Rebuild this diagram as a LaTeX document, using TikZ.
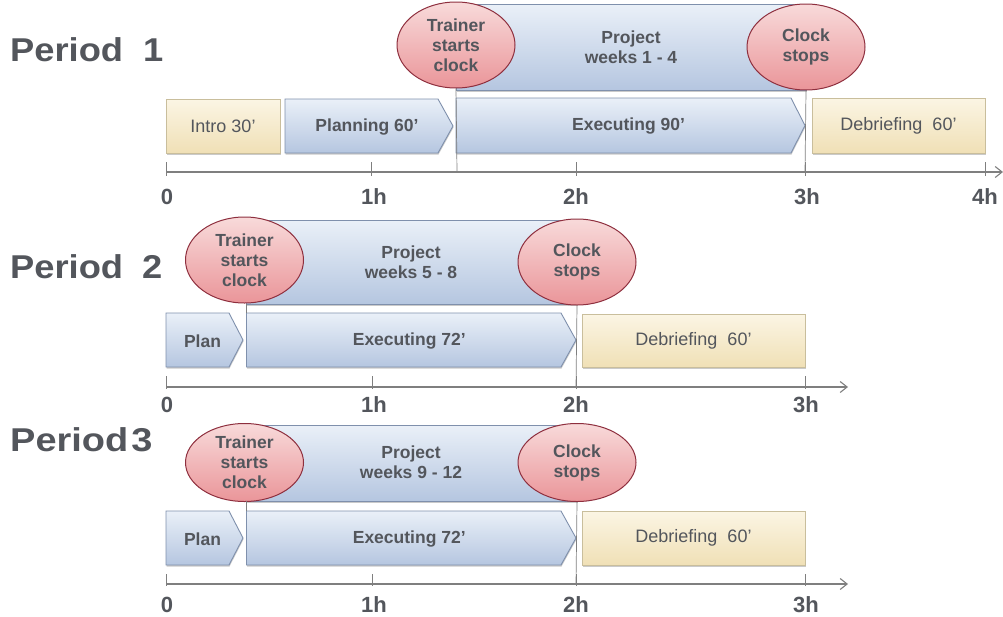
\documentclass[tikz,border=0pt]{standalone}
\usepackage{fontspec}
\setmainfont{Liberation Sans}
\usetikzlibrary{shapes.geometric,arrows.meta,shadows}
\definecolor{txt}{HTML}{53565C}
\definecolor{bluetop}{HTML}{EAF0F8}
\definecolor{bluebot}{HTML}{B5C6E0}
\definecolor{blueln}{HTML}{7F90AC}
\definecolor{yeltop}{HTML}{FBF5E4}
\definecolor{yelbot}{HTML}{F0E0B6}
\definecolor{yelln}{HTML}{C9BE9C}
\definecolor{redtop}{HTML}{F8DADA}
\definecolor{redbot}{HTML}{EA9599}
\definecolor{redln}{HTML}{8E2F3E}
\definecolor{axisc}{HTML}{7F7F7F}
\tikzset{
 x=1pt,y=-1pt,
 softshadow/.style={drop shadow={shadow xshift=0.5pt,shadow yshift=-1.5pt,opacity=0.35,fill=black!60}},
 lbl/.style={font=\bfseries\fontsize{17.5}{20}\selectfont,text=txt,align=center,inner sep=0pt},
 plainlbl/.style={font=\fontsize{18}{20}\selectfont,text=txt,align=center,inner sep=0pt},
 bluefill/.style={draw=blueln,line width=0.9pt,top color=bluetop,bottom color=bluebot,softshadow},
 yelbox/.style={rectangle,draw=yelln,line width=0.9pt,top color=yeltop,bottom color=yelbot,softshadow,outer sep=0pt},
 clockell/.style={ellipse,draw=redln,line width=1pt,top color=redtop,bottom color=redbot,inner sep=0pt,minimum width=118pt,minimum height=86pt,lbl},
 axisln/.style={draw=axisc,line width=1.1pt},
 axisarrow/.style={axisln,-{Straight Barb[length=7pt,width=11pt]}},
 axtick/.style={draw=axisc,line width=0.7pt},
 timelbl/.style={font=\bfseries\fontsize{22}{24}\selectfont,text=txt,inner sep=0pt},
 period/.style={font=\bfseries\fontsize{33}{38}\selectfont,text=txt,inner sep=0pt,anchor=west},
}
\newcommand{\YelBox}[6]{% name x0 y0 x1 y1 text
 \path[yelbox] (#2,#3) rectangle (#4,#5);
 \node[plainlbl] (#1) at ({(#2+#4)/2},{(#3+#5)/2}) {#6};}
\newcommand{\Pent}[7]{% name x0 y0 x1 y1 shoulder text
 \path[bluefill] (#2,#3) -- (#6,#3) -- (#4,{(#3+#5)/2}) -- (#6,#5) -- (#2,#5) -- cycle;
 \node[lbl] (#1) at ({(#2+#4)/2-2},{(#3+#5)/2+1}) {#7};}
\begin{document}
\begin{tikzpicture}
\useasboundingbox (0,0) rectangle (1003,616);
% Period 1
\node[period] (p1) at (10,50) {\addfontfeature{FakeStretch=1.1}Period\kern20pt 1};
\path[bluefill] (456,4) rectangle (806,90);
\node[lbl] (proj1) at (631,47) {Project\\weeks 1 - 4};
\node[clockell] (t1) at (456,45) {Trainer\\starts\\clock};
\node[clockell] (c1) at (806,47) {Clock\\stops};
\YelBox{i1}{166}{99}{280}{153}{Intro 30’}
\Pent{pl1}{285}{99}{453}{153}{438}{Planning 60’}
\Pent{e1}{456}{98}{805}{153}{791}{Executing 90’}
\YelBox{d1}{812}{98}{985}{153}{Debriefing\ \ 60’}
\coordinate (a1s) at (166,172); \coordinate (a1e) at (1003,172);
\draw[axisarrow] (a1s) -- (a1e);
\foreach \x in {166,371,576,805,985} \draw[axtick] (\x,162) -- (\x,176);
\draw[axtick] (t1.south) -- (457,172);
\draw[axtick] (c1.south) -- (805,172);
\node[timelbl] (l10) at (167,197) {0};
\node[timelbl] (l11) at (374,197) {1h};
\node[timelbl] (l12) at (576,197) {2h};
\node[timelbl] (l13) at (807,197) {3h};
\node[timelbl] (l14) at (985,197) {4h};
% Period 2
\node[period] (p2) at (10,267) {\addfontfeature{FakeStretch=1.1}Period\kern19pt 2};
\path[bluefill] (246,220) rectangle (577,304);
\node[lbl] (proj2) at (411,262) {Project\\weeks 5 - 8};
\node[clockell] (t2) at (244.5,260) {Trainer\\starts\\clock};
\node[clockell] (c2) at (577,262) {Clock\\stops};
\Pent{pl2}{166}{313}{243}{367}{229}{Plan}
\Pent{e2}{246.5}{313}{576}{367}{561}{Executing 72’}
\YelBox{d2}{582}{314}{805}{367}{Debriefing\ \ 60’}
\coordinate (a2s) at (166,387); \coordinate (a2e) at (848,387);
\draw[axisarrow] (a2s) -- (a2e);
\foreach \x in {166,372,576,805} \draw[axtick] (\x,376) -- (\x,389);
\draw[axtick] (246.5,304) -- (246.5,313);
\draw[axtick] (c2.south) -- (576,387);
\node[timelbl] (l20) at (167,405) {0};
\node[timelbl] (l21) at (374,405) {1h};
\node[timelbl] (l22) at (576,405) {2h};
\node[timelbl] (l23) at (806,405) {3h};
% Period 3
\node[period] (p3) at (10,440) {\addfontfeature{FakeStretch=1.15}Period\kern3pt 3};
\path[bluefill] (246,425) rectangle (577,501);
\node[lbl] (proj3) at (411,462) {Project\\weeks 9 - 12};
\node[clockell,minimum height=78pt] (t3) at (244.5,462.5) {Trainer\\starts\\clock};
\node[clockell,minimum height=78pt] (c3) at (577,462.5) {Clock\\stops};
\Pent{pl3}{166}{511}{243}{565}{229}{Plan}
\Pent{e3}{246.5}{511}{576}{565}{561}{Executing 72’}
\YelBox{d3}{582}{511}{805}{565}{Debriefing\ \ 60’}
\coordinate (a3s) at (166,584); \coordinate (a3e) at (848,584);
\draw[axisarrow] (a3s) -- (a3e);
\foreach \x in {166,372,576,805} \draw[axtick] (\x,574) -- (\x,586);
\draw[axtick] (246.5,501) -- (246.5,511);
\draw[axtick] (c3.south) -- (576,584);
\node[timelbl] (l30) at (167,605) {0};
\node[timelbl] (l31) at (374,605) {1h};
\node[timelbl] (l32) at (576,605) {2h};
\node[timelbl] (l33) at (806,605) {3h};
\end{tikzpicture}
\end{document}
